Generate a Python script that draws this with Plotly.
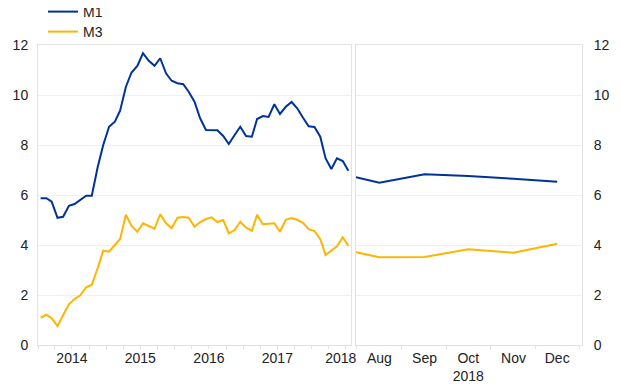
import pandas as pd
import plotly.graph_objects as go

# ---- data ----
left_dates = list(pd.date_range("2014-01-01", "2018-07-01", freq="MS") + pd.Timedelta(days=14))
m1_left = [5.87, 5.87, 5.73, 5.09, 5.13, 5.57, 5.64, 5.80, 5.97, 5.97,
           7.10, 8.00, 8.73, 8.93, 9.37, 10.33, 10.90, 11.16, 11.67, 11.37,
           11.17, 11.47, 10.87, 10.57, 10.47, 10.43, 10.13, 9.73, 9.07, 8.60,
           8.60, 8.59, 8.36, 8.04, 8.40, 8.73, 8.36, 8.33, 9.04, 9.16,
           9.12, 9.63, 9.24, 9.53, 9.72, 9.47, 9.09, 8.75, 8.72, 8.33,
           7.47, 7.04, 7.47, 7.36, 6.97]
m3_left = [1.09, 1.21, 1.07, 0.76, 1.20, 1.63, 1.84, 1.99, 2.31, 2.41,
           3.07, 3.77, 3.73, 4.01, 4.24, 5.21, 4.76, 4.53, 4.87, 4.76,
           4.65, 5.23, 4.87, 4.67, 5.09, 5.12, 5.09, 4.73, 4.92, 5.04,
           5.11, 4.92, 5.00, 4.47, 4.60, 4.93, 4.69, 4.57, 5.21, 4.83,
           4.85, 4.87, 4.53, 5.01, 5.08, 5.01, 4.89, 4.63, 4.56, 4.23,
           3.60, 3.77, 3.95, 4.31, 3.96]

right_dates = ["2018-07-16", "2018-08-01", "2018-09-01", "2018-10-01", "2018-11-01", "2018-12-01"]
m1_right = [6.71, 6.49, 6.83, 6.76, 6.65, 6.53]
m3_right = [3.71, 3.51, 3.52, 3.83, 3.69, 4.05]

left_tickvals = ["2014-07-01", "2015-07-01", "2016-07-01", "2017-07-01", "2018-06-04"]
left_ticktext = ["2014", "2015", "2016", "2017", "2018"]
right_tickvals = ["2018-08-01", "2018-09-01", "2018-10-01", "2018-11-01", "2018-12-01"]
right_ticktext = ["Aug", "Sep", "Oct<br>2018", "Nov", "Dec"]
y_ticks = [0, 2, 4, 6, 8, 10, 12]

BLUE = "#003299"
YELLOW = "#FFB400"
FRAME = "#e3e3e3"
GRID = "#efefef"
FONT = "Liberation Sans, Arial, sans-serif"
FS = 14

# The page body adds an 8px margin, so the figure is sized/offset to compensate.
W, H = 604, 379
ML, MR, MT, MB = 30, 30, 37, 42
PW, PH = W - ML - MR, H - MT - MB

fig = go.Figure()
fig.add_trace(go.Scatter(x=left_dates, y=m1_left, mode="lines", name="M1",
                         line=dict(color=BLUE, width=2), xaxis="x", yaxis="y",
                         legendgroup="m1", legend="legend"))
fig.add_trace(go.Scatter(x=left_dates, y=m3_left, mode="lines", name="M3",
                         line=dict(color=YELLOW, width=2), xaxis="x", yaxis="y",
                         legendgroup="m3", legend="legend2"))
fig.add_trace(go.Scatter(x=right_dates, y=m1_right, mode="lines", name="M1", showlegend=False,
                         line=dict(color=BLUE, width=2), xaxis="x2", yaxis="y2", legendgroup="m1"))
fig.add_trace(go.Scatter(x=right_dates, y=m3_right, mode="lines", name="M3", showlegend=False,
                         line=dict(color=YELLOW, width=2), xaxis="x2", yaxis="y2", legendgroup="m3"))

axis_common = dict(showline=True, linecolor=FRAME, linewidth=1, mirror=True, zeroline=False,
                   automargin=False,
                   tickfont=dict(family=FONT, size=FS, color="#222"))

leg_common = dict(xref="paper", yref="paper", xanchor="left", yanchor="top",
                  bgcolor="rgba(0,0,0,0)", font=dict(family=FONT, size=FS, color="#222"),
                  itemwidth=30)
leg_x = (35 - ML) / PW

fig.update_layout(
    width=W, height=H,
    margin=dict(l=ML, r=MR, t=MT, b=MB, autoexpand=False),
    paper_bgcolor="white", plot_bgcolor="white",
    font=dict(family=FONT, size=FS, color="#222"),
    showlegend=True,
    legend=dict(x=leg_x, y=1 + (MT + 12) / PH, **leg_common),
    legend2=dict(x=leg_x, y=1 + (MT - 8) / PH, **leg_common),
    xaxis=dict(domain=[0, 0.5754], type="date", range=["2014-01-01", "2018-07-29"],
               tickmode="array", tickvals=left_tickvals, ticktext=left_ticktext,
               showgrid=False, ticks="outside", ticklen=0, tickcolor="rgba(0,0,0,0)",
               minor=dict(ticks="outside", ticklen=3, tickcolor=FRAME, dtick="M3",
                          tick0="2014-01-01", showgrid=False),
               anchor="y", **axis_common),
    xaxis2=dict(domain=[0.5846, 1.0], type="date", range=["2018-07-16", "2018-12-18"],
                tickmode="array", tickvals=right_tickvals, ticktext=right_ticktext,
                showgrid=False, ticks="outside", ticklen=0, tickcolor="rgba(0,0,0,0)",
                minor=dict(ticks="outside", ticklen=3, tickcolor=FRAME, dtick="M1",
                           tick0="2018-07-16", showgrid=False),
                anchor="y2", **axis_common),
    yaxis=dict(range=[0, 12], tickmode="array", tickvals=y_ticks, showgrid=True, gridcolor=GRID,
               gridwidth=1, ticks="outside", ticklen=6, tickcolor="rgba(0,0,0,0)",
               anchor="x", **axis_common),
    yaxis2=dict(range=[0, 12], tickmode="array", tickvals=y_ticks, showgrid=True, gridcolor=GRID,
                gridwidth=1, side="right", ticks="outside", ticklen=8, tickcolor="rgba(0,0,0,0)",
                anchor="x2", matches="y", **axis_common),
)

fig.write_html("out.html")
